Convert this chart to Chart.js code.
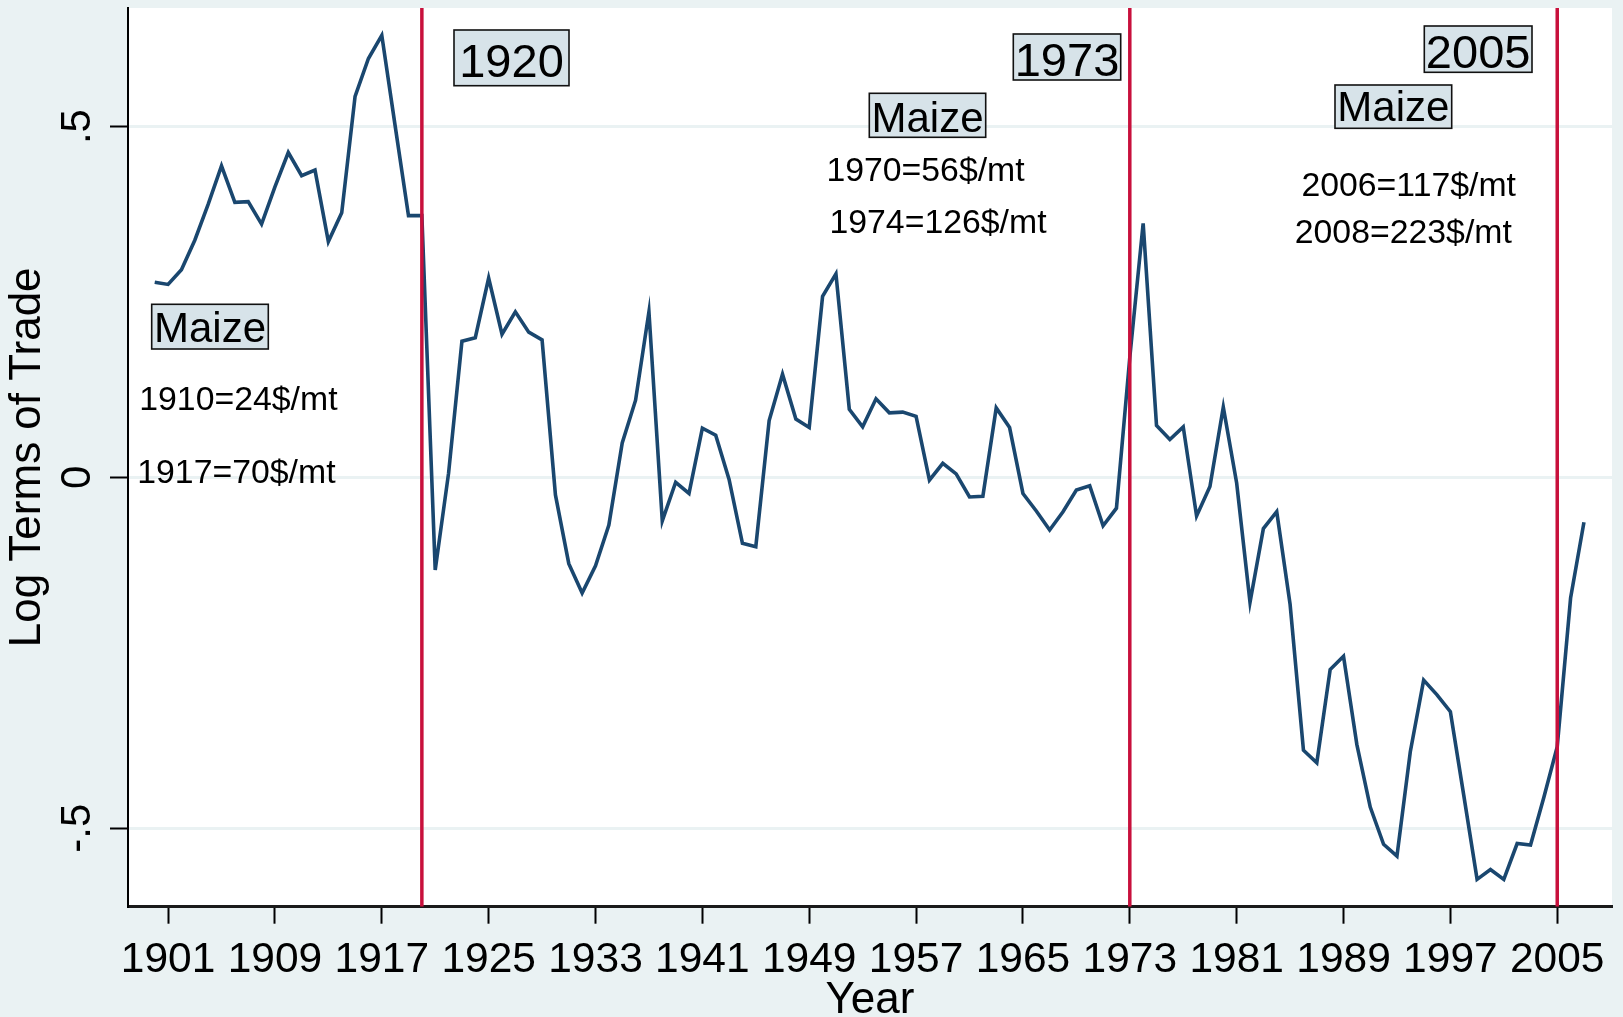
<!DOCTYPE html>
<html><head><meta charset="utf-8">
<script src="https://cdn.jsdelivr.net/npm/chart.js@4.4.1/dist/chart.umd.min.js"></script>
<style>html,body{margin:0;padding:0;background:#EAF2F3;overflow:hidden}#wrap{width:1623px;height:1017px}canvas{display:block}</style>
</head><body><div id="wrap"><canvas id="c" width="1623" height="1017"></canvas></div>
<script>
// ---- data ----
const years = [1900,1901,1902,1903,1904,1905,1906,1907,1908,1909,
1910,1911,1912,1913,1914,1915,1916,1917,1918,1919,
1920,1921,1922,1923,1924,1925,1926,1927,1928,1929,
1930,1931,1932,1933,1934,1935,1936,1937,1938,1939,
1940,1941,1942,1943,1944,1945,1946,1947,1948,1949,
1950,1951,1952,1953,1954,1955,1956,1957,1958,1959,
1960,1961,1962,1963,1964,1965,1966,1967,1968,1969,
1970,1971,1972,1973,1974,1975,1976,1977,1978,1979,
1980,1981,1982,1983,1984,1985,1986,1987,1988,1989,
1990,1991,1992,1993,1994,1995,1996,1997,1998,1999,
2000,2001,2002,2003,2004,2005,2006,2007];
const logTermsOfTrade = [0.278,0.275,0.296,0.338,0.389,0.444,0.392,0.393,0.361,0.414,
0.463,0.430,0.438,0.336,0.377,0.543,0.597,0.630,0.501,0.373,
0.373,-0.132,0.006,0.194,0.199,0.284,0.204,0.236,0.207,0.196,
-0.025,-0.123,-0.165,-0.126,-0.068,0.049,0.110,0.236,-0.062,-0.007,
-0.023,0.070,0.060,-0.003,-0.094,-0.099,0.081,0.147,0.083,0.071,
0.258,0.290,0.097,0.072,0.112,0.092,0.093,0.087,-0.004,0.020,
0.005,-0.028,-0.027,0.099,0.071,-0.023,-0.048,-0.075,-0.049,-0.018,
-0.012,-0.069,-0.044,0.171,0.362,0.074,0.054,0.072,-0.055,-0.013,
0.100,-0.008,-0.178,-0.073,-0.049,-0.181,-0.389,-0.407,-0.274,-0.255,
-0.381,-0.470,-0.523,-0.540,-0.391,-0.289,-0.310,-0.334,-0.453,-0.573,
-0.559,-0.573,-0.522,-0.524,-0.456,-0.384,-0.172,-0.064];
const xTickYears = [1901,1909,1917,1925,1933,1941,1949,1957,1965,1973,1981,1989,1997,2005];
const yTickValues = [-0.5, 0, 0.5];
const yTickLabels = ['-.5', '0', '.5'];
const breakYears = [1920, 1973, 2005];
const breakLabels = ['1920', '1973', '2005'];
const cropLabel = 'Maize';
const priceNotes = ['1910=24$/mt', '1917=70$/mt', '1970=56$/mt', '1974=126$/mt', '2006=117$/mt', '2008=223$/mt'];

// ---- axis ranges ----
const X_MIN = 1898, X_MAX = 2009.1, Y_MIN = -0.612, Y_MAX = 0.669;

// ---- styles ----
const FONT = '"Liberation Sans", Arial, Helvetica, sans-serif';
const BG = '#EAF2F3';
const BOX_FILL = '#D7E3E9';
const NAVY = '#1A476F';
const RED = '#C8103C';

const bgPlugin = {
  id: 'bg',
  beforeDraw(chart) {
    const {ctx, chartArea: a} = chart;
    ctx.save();
    ctx.fillStyle = BG;
    ctx.fillRect(0, 0, chart.width, chart.height);
    ctx.fillStyle = '#FFFFFF';
    ctx.fillRect(a.left, a.top, a.right - a.left, a.bottom - a.top);
    ctx.restore();
  }
};

// annotation placement (pixel layout)
const boxLayout = [
  {label: () => breakLabels[0], size: 47, x0: 454, y0: 30, x1: 569, y1: 85.7, base: 76.7},
  {label: () => breakLabels[1], size: 47, x0: 1013.3, y0: 34, x1: 1120.7, y1: 80, base: 76},
  {label: () => breakLabels[2], size: 47, x0: 1424.3, y0: 26, x1: 1532, y1: 72.3, base: 68.3},
  {label: () => cropLabel, size: 42, x0: 151.7, y0: 304.3, x1: 268.3, y1: 349, base: 341.7},
  {label: () => cropLabel, size: 42, x0: 869.3, y0: 93.3, x1: 985.7, y1: 137.3, base: 131.7},
  {label: () => cropLabel, size: 42, x0: 1335, y0: 85, x1: 1451.7, y1: 128.3, base: 121}
];
const noteLayout = [
  {cx: 238.4, base: 409.5},
  {cx: 236.4, base: 483},
  {cx: 925.5, base: 180.5},
  {cx: 938, base: 232.5},
  {cx: 1408.7, base: 195.5},
  {cx: 1403.3, base: 243}
];

const annotPlugin = {
  id: 'annot',
  afterDatasetsDraw(chart) {
    const ctx = chart.ctx;
    ctx.save();
    boxLayout.forEach(b => {
      ctx.fillStyle = BOX_FILL;
      ctx.fillRect(b.x0, b.y0, b.x1 - b.x0, b.y1 - b.y0);
      ctx.strokeStyle = '#111';
      ctx.lineWidth = 1.6;
      ctx.strokeRect(b.x0, b.y0, b.x1 - b.x0, b.y1 - b.y0);
      ctx.fillStyle = '#000';
      ctx.font = b.size + 'px ' + FONT;
      ctx.textAlign = 'center';
      ctx.textBaseline = 'alphabetic';
      ctx.fillText(b.label(), (b.x0 + b.x1) / 2, b.base);
    });
    ctx.font = '33.8px ' + FONT;
    ctx.fillStyle = '#000';
    ctx.textAlign = 'center';
    ctx.textBaseline = 'alphabetic';
    noteLayout.forEach((n, i) => ctx.fillText(priceNotes[i], n.cx, n.base));
    ctx.restore();
  }
};

const datasets = [];
breakYears.forEach(yr => {
  datasets.push({
    data: [{x: yr, y: Y_MIN}, {x: yr, y: Y_MAX}],
    borderColor: RED, borderWidth: 3.5, pointRadius: 0, order: 0, fill: false
  });
});
datasets.push({
  data: years.map((yr, i) => ({x: yr, y: logTermsOfTrade[i]})),
  borderColor: NAVY, borderWidth: 3.6, pointRadius: 0, tension: 0, order: 1, fill: false
});

Chart.defaults.color = '#000';
Chart.defaults.font.family = FONT;

new Chart(document.getElementById('c'), {
  type: 'line',
  data: {datasets},
  options: {
    responsive: false,
    devicePixelRatio: 1,
    animation: false,
    events: [],
    layout: {padding: {left: 0, top: 8, right: 11, bottom: 0}},
    plugins: {legend: {display: false}, tooltip: {enabled: false}, title: {display: false}},
    scales: {
      x: {
        type: 'linear', min: X_MIN, max: X_MAX, offset: false,
        afterBuildTicks: s => { s.ticks = xTickYears.map(v => ({value: v})); },
        afterFit: s => { s.height = 110.3; s.paddingLeft = 0; s.paddingRight = 0; s.paddingTop = 0; s.paddingBottom = 0; },
        ticks: {
          font: {size: 42.5}, color: '#000', padding: 11, autoSkip: false, maxRotation: 0, minRotation: 0,
          callback: v => String(v)
        },
        grid: {drawOnChartArea: false, drawTicks: true, tickLength: 17, tickColor: '#000', tickWidth: 2},
        border: {display: true, color: '#1a1a1a', width: 3},
        title: {display: true, text: 'Year', font: {size: 44}, color: '#000', padding: {top: 0, bottom: -10}}
      },
      y: {
        type: 'linear', min: Y_MIN, max: Y_MAX,
        afterBuildTicks: s => { s.ticks = yTickValues.map(v => ({value: v})); },
        afterFit: s => { s.width = 128; s.paddingTop = 0; s.paddingBottom = 0; s.paddingLeft = 0; s.paddingRight = 0; },
        ticks: {
          font: {size: 42}, color: '#000', padding: 7, minRotation: 90, maxRotation: 90, crossAlign: 'center',
          callback: (v) => { const i = yTickValues.indexOf(v); return i >= 0 ? yTickLabels[i] : ''; }
        },
        grid: {color: '#EAF2F3', lineWidth: 3, drawTicks: true, tickLength: 18, tickColor: '#000', tickWidth: 2},
        border: {display: true, color: '#000', width: 2},
        title: {display: true, text: 'Log Terms of Trade', font: {size: 44}, color: '#000', padding: {top: 1.7, bottom: 0}}
      }
    }
  },
  plugins: [bgPlugin, annotPlugin]
});
</script></body></html>
